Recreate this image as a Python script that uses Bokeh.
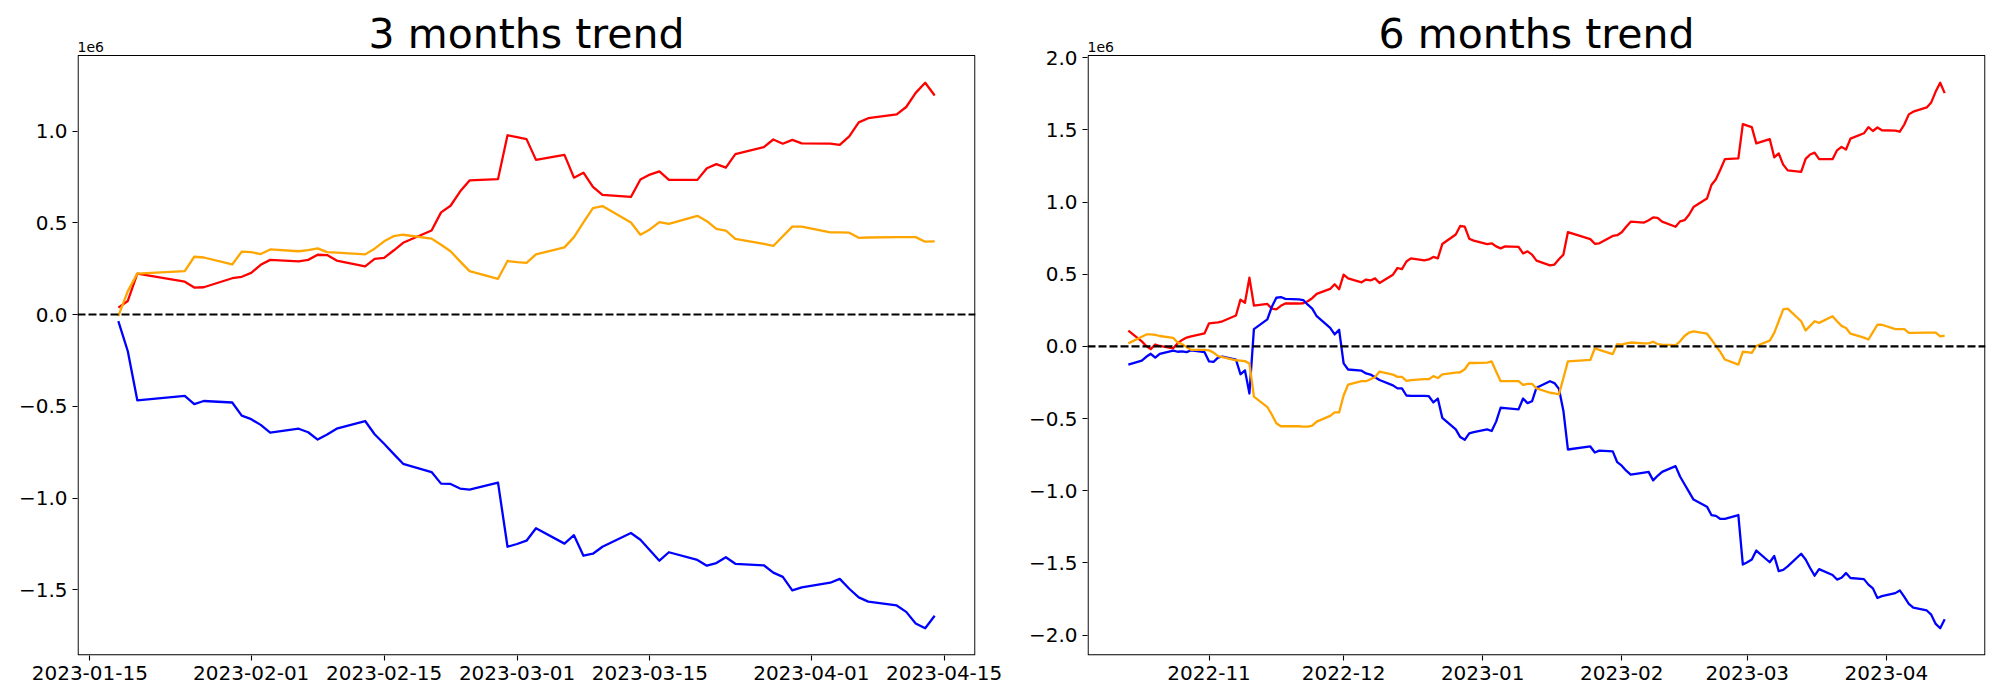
import pandas as pd
from bokeh.plotting import figure
from bokeh.layouts import row
from bokeh.models import (Range1d, FixedTicker, Span, Label, CustomJSTickFormatter,
                          DatetimeTickFormatter, ColumnDataSource, BoxAnnotation)
from bokeh.embed import file_html
from bokeh.resources import INLINE

SCALE = 1e6  # values below are in units of 1e6
SKIP = ["2023-01-23", "2023-01-24"]

# ---------------- 3 months ----------------
dates_3m = pd.bdate_range("2023-01-18", "2023-04-14")
dates_3m = dates_3m[~dates_3m.isin(pd.to_datetime(SKIP))]

red_3m = [0.038, 0.074, 0.223,
          0.179, 0.147, 0.149,
          0.198, 0.206, 0.227, 0.271, 0.298,
          0.290, 0.298, 0.326, 0.324, 0.294,
          0.263, 0.303, 0.309, 0.349, 0.391,
          0.458, 0.557, 0.593, 0.670, 0.731,
          0.738, 0.977, 0.967, 0.956, 0.843,
          0.870, 0.746, 0.773, 0.696, 0.652,
          0.641, 0.736, 0.763, 0.780, 0.734,
          0.734, 0.797, 0.820, 0.801, 0.874,
          0.912, 0.954, 0.931, 0.952, 0.933,
          0.931, 0.925, 0.971, 1.047, 1.070,
          1.091, 1.131, 1.208, 1.263, 1.194]
blue_3m = [-0.036, -0.200, -0.467,
           -0.443, -0.488, -0.471,
           -0.479, -0.551, -0.570, -0.601, -0.643,
           -0.622, -0.641, -0.681, -0.654, -0.622,
           -0.580, -0.652, -0.704, -0.759, -0.813,
           -0.858, -0.921, -0.923, -0.948, -0.954,
           -0.916, -1.265, -1.250, -1.232, -1.164,
           -1.248, -1.202, -1.314, -1.303, -1.265,
           -1.190, -1.227, -1.284, -1.341, -1.295,
           -1.337, -1.368, -1.354, -1.322, -1.358,
           -1.366, -1.406, -1.429, -1.503, -1.486,
           -1.461, -1.440, -1.494, -1.541, -1.564,
           -1.585, -1.620, -1.683, -1.709, -1.641]
orange_3m = [-0.008, 0.128, 0.223,
             0.237, 0.315, 0.311,
             0.273, 0.343, 0.340, 0.330, 0.355,
             0.345, 0.351, 0.361, 0.340, 0.338,
             0.328, 0.359, 0.399, 0.427, 0.435,
             0.414, 0.380, 0.345, 0.290, 0.237,
             0.195, 0.292, 0.286, 0.282, 0.328,
             0.366, 0.422, 0.502, 0.580, 0.591,
             0.502, 0.435, 0.464, 0.504, 0.494,
             0.538, 0.509, 0.467, 0.458, 0.412,
             0.385, 0.374, 0.427, 0.479, 0.479,
             0.448, 0.448, 0.446, 0.418, 0.420,
             0.422, 0.422, 0.422, 0.397, 0.399]
xticks_3m = ["2023-01-15", "2023-02-01", "2023-02-15", "2023-03-01",
             "2023-03-15", "2023-04-01", "2023-04-15"]
yticks_3m = [-1.5, -1.0, -0.5, 0.0, 0.5, 1.0]

# ---------------- 6 months ----------------
dates_6m = pd.bdate_range("2022-10-14", "2023-04-14")
dates_6m = dates_6m[~dates_6m.isin(pd.to_datetime(SKIP))]

red_6m = [0.110,
          0.035, 0.003, -0.019, 0.013, 0.003,
          -0.013, 0.021, 0.045, 0.061, 0.070,
          0.091, 0.160, 0.163, 0.166, 0.174,
          0.214, 0.324, 0.302, 0.476, 0.283,
          0.294, 0.262, 0.257, 0.281, 0.297,
          0.297, 0.299, 0.313, 0.334, 0.364,
          0.398, 0.430, 0.396, 0.497, 0.471,
          0.444, 0.463, 0.457, 0.471, 0.439,
          0.497, 0.543, 0.535, 0.588, 0.610,
          0.596, 0.602, 0.620, 0.610, 0.709,
          0.775, 0.834, 0.829, 0.746, 0.733,
          0.709, 0.714, 0.693, 0.679, 0.693,
          0.690, 0.644, 0.658, 0.636, 0.594,
          0.561, 0.567, 0.604, 0.636, 0.791,
          0.743, 0.711, 0.714,
          0.765, 0.770, 0.791, 0.829, 0.864,
          0.858, 0.874, 0.893, 0.890, 0.864,
          0.829, 0.866, 0.874, 0.912, 0.965,
          1.024, 1.118, 1.158, 1.225, 1.297,
          1.302, 1.540, 1.529, 1.519, 1.406,
          1.436, 1.310, 1.337, 1.259, 1.219,
          1.209, 1.299, 1.329, 1.342, 1.297,
          1.297, 1.358, 1.382, 1.364, 1.439,
          1.476, 1.519, 1.492, 1.516, 1.497,
          1.495, 1.487, 1.537, 1.607, 1.626,
          1.655, 1.690, 1.765, 1.826, 1.754]
blue_6m = [-0.126,
           -0.099, -0.072, -0.051, -0.078, -0.051,
           -0.029, -0.037, -0.035, -0.040, -0.027,
           -0.040, -0.104, -0.107, -0.078, -0.070,
           -0.091, -0.193, -0.166, -0.326, 0.120,
           0.187, 0.275, 0.337, 0.342, 0.329,
           0.326, 0.321, 0.289, 0.262, 0.209,
           0.128, 0.083, 0.115, -0.118, -0.160,
           -0.168, -0.187, -0.195, -0.214, -0.233,
           -0.270, -0.291, -0.291, -0.340, -0.342,
           -0.342, -0.345, -0.388, -0.361, -0.495,
           -0.575, -0.628, -0.647, -0.602, -0.594,
           -0.575, -0.586, -0.521, -0.425, -0.428,
           -0.436, -0.361, -0.393, -0.380, -0.286,
           -0.241, -0.254, -0.294, -0.447, -0.714,
           -0.693, -0.735, -0.722,
           -0.727, -0.802, -0.826, -0.861, -0.888,
           -0.874, -0.869, -0.928, -0.896, -0.869,
           -0.829, -0.901, -0.955, -1.008, -1.061,
           -1.110, -1.168, -1.174, -1.195, -1.195,
           -1.168, -1.511, -1.495, -1.476, -1.414,
           -1.495, -1.452, -1.556, -1.548, -1.524,
           -1.436, -1.476, -1.535, -1.588, -1.543,
           -1.583, -1.615, -1.602, -1.570, -1.604,
           -1.612, -1.650, -1.676, -1.743, -1.730,
           -1.709, -1.690, -1.735, -1.783, -1.810,
           -1.829, -1.858, -1.922, -1.952, -1.890]
orange_6m = [0.021,
             0.067, 0.083, 0.083, 0.080, 0.072,
             0.059, 0.027, 0.016, -0.005, -0.024,
             -0.024, -0.027, -0.043, -0.067, -0.075,
             -0.096, -0.099, -0.102, -0.118, -0.348,
             -0.420, -0.473, -0.532, -0.553, -0.553,
             -0.553, -0.556, -0.556, -0.548, -0.521,
             -0.481, -0.457, -0.457, -0.340, -0.265,
             -0.241, -0.241, -0.227, -0.214, -0.174,
             -0.195, -0.211, -0.211, -0.238, -0.233,
             -0.227, -0.227, -0.206, -0.219, -0.193,
             -0.182, -0.179, -0.158, -0.115, -0.115,
             -0.112, -0.104, -0.174, -0.241, -0.241,
             -0.241, -0.267, -0.259, -0.259, -0.291,
             -0.321, -0.326, -0.332, -0.219, -0.104,
             -0.094, -0.013, -0.024,
             -0.053, 0.016, 0.013, 0.021, 0.027,
             0.021, 0.021, 0.032, 0.016, 0.013,
             0.008, 0.035, 0.072, 0.096, 0.104,
             0.088, 0.048, 0.003, -0.040, -0.091,
             -0.126, -0.037, -0.040, -0.045, 0.003,
             0.040, 0.094, 0.174, 0.257, 0.262,
             0.174, 0.110, 0.142, 0.174, 0.163,
             0.209, 0.174, 0.142, 0.128, 0.088,
             0.061, 0.048, 0.099, 0.150, 0.150,
             0.120, 0.120, 0.120, 0.094, 0.094,
             0.096, 0.096, 0.096, 0.070, 0.075]
xticks_6m = ["2022-11-01", "2022-12-01", "2023-01-01", "2023-02-01",
             "2023-03-01", "2023-04-01"]
yticks_6m = [-2.0, -1.5, -1.0, -0.5, 0.0, 0.5, 1.0, 1.5, 2.0]

for s in (red_3m, blue_3m, orange_3m):
    assert len(s) == len(dates_3m), (len(s), len(dates_3m))
for s in (red_6m, blue_6m, orange_6m):
    assert len(s) == len(dates_6m), (len(s), len(dates_6m))

FONT = "DejaVu Sans"
COLORS = ["red", "blue", "orange"]
FRAME_W, FRAME_H = 898, 600   # size of the drawn axes box
EXTRA_TOP = 50                # room above the box for title / offset text


def ms(ts):
    return pd.Timestamp(ts).value / 1e6


def make(title, dates, series, xticks, xfmt, yticks, bl, br):
    xs = [ms(d) for d in dates]
    x0, x1 = xs[0], xs[-1]
    xpad = 0.05 * (x1 - x0)
    xa, xb = x0 - xpad, x1 + xpad
    allv = [v for s in series for v in s]
    lo, hi = min(allv), max(allv)
    ypad = 0.05 * (hi - lo)
    ybot, ytop = (lo - ypad) * SCALE, (hi + ypad) * SCALE
    dy = (ytop - ybot) / FRAME_H
    dx = (xb - xa) / FRAME_W

    p = figure(frame_width=FRAME_W, frame_height=FRAME_H + EXTRA_TOP,
               x_axis_type="datetime", output_backend="svg",
               toolbar_location=None,
               min_border_left=bl, min_border_right=br,
               min_border_top=5, min_border_bottom=30,
               x_range=Range1d(xa, xb),
               y_range=Range1d(ybot, ytop + EXTRA_TOP * dy))
    p.background_fill_color = "white"
    p.border_fill_color = "white"
    p.outline_line_color = None
    p.xgrid.visible = False
    p.ygrid.visible = False

    for s, c in zip(series, COLORS):
        src = ColumnDataSource(dict(x=list(dates), y=[v * SCALE for v in s]))
        p.line("x", "y", source=src, line_color=c, line_width=2.3,
               line_join="round")

    p.add_layout(Span(location=0, dimension="width", line_color="black",
                      line_width=2.1, line_dash="8 3"))

    # the axes box
    p.add_layout(BoxAnnotation(left=xa + 0.6 * dx, right=xb - 0.6 * dx,
                               bottom=ybot + 0.6 * dy, top=ytop,
                               fill_color=None, fill_alpha=0,
                               line_color="black", line_width=1.2,
                               line_alpha=1.0))

    p.xaxis.ticker = FixedTicker(ticks=[ms(t) for t in xticks])
    p.xaxis.formatter = DatetimeTickFormatter(
        microseconds=xfmt, milliseconds=xfmt, seconds=xfmt, minsec=xfmt,
        minutes=xfmt, hourmin=xfmt, hours=xfmt, days=xfmt, months=xfmt,
        years=xfmt)
    p.yaxis.ticker = FixedTicker(ticks=[t * SCALE for t in yticks])
    p.yaxis.formatter = CustomJSTickFormatter(code="""
        const v = tick / 1e6;
        const s = Math.abs(v).toFixed(1);
        return (v < -1e-9 ? '\\u2212' : '') + s;
    """)
    for ax in (p.xaxis[0], p.yaxis[0]):
        ax.axis_line_color = None
        ax.major_tick_in = 0
        ax.major_tick_out = 5
        ax.major_tick_line_width = 1.1
        ax.major_tick_line_color = "black"
        ax.minor_tick_line_color = None
        ax.major_label_text_font = FONT
        ax.major_label_text_font_size = "20px"
        ax.major_label_text_color = "black"
        ax.major_label_standoff = 5

    p.add_layout(Label(x=(xa + xb) / 2, y=ytop + 22 * dy, text=title,
                       text_align="center", text_baseline="alphabetic",
                       text_font=FONT, text_font_size="41px",
                       text_color="black"))
    p.add_layout(Label(x=xa, y=ytop + 9 * dy, text="1e6",
                       text_align="left", text_baseline="alphabetic",
                       text_font=FONT, text_font_size="14px",
                       text_color="black"))
    return p


p1 = make("3 months trend", dates_3m, [red_3m, blue_3m, orange_3m],
          xticks_3m, "%Y-%m-%d", yticks_3m, 77, 50)
p2 = make("6 months trend", dates_6m, [red_6m, blue_6m, orange_6m],
          xticks_6m, "%Y-%m", yticks_6m, 62, 13)

layout = row(p1, p2)
open("out.html", "w").write(file_html(layout, INLINE))
